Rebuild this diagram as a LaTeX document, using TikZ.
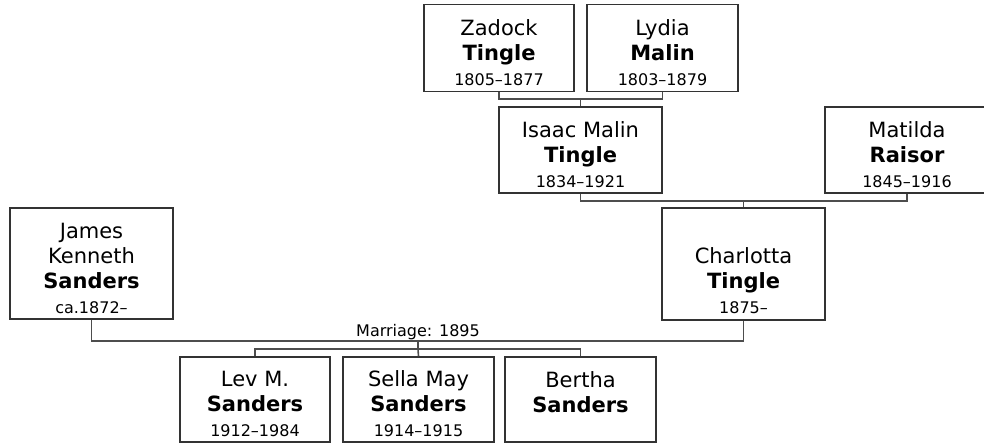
\documentclass[tikz,border=0pt]{standalone}
\usepackage{fontspec}
\setmainfont{DejaVu Sans}
\definecolor{boxline}{HTML}{333333}
\definecolor{linkline}{HTML}{4D4D4D}
\newcommand{\yrs}[1]{{\fontsize{16pt}{19pt}\selectfont #1}}
\newcommand{\headroom}{\rule{0pt}{25pt}}
\tikzset{
  person/.style={draw=boxline, line width=1.5pt, fill=white, align=center, inner sep=0pt,
    minimum width=163pt, minimum height=86pt, font=\fontsize{21pt}{25pt}\selectfont},
  link/.style={draw=linkline, line width=1.6pt}
}
\begin{document}
\begin{tikzpicture}[x=1pt, y=-1pt]
    \useasboundingbox (0,0) rectangle (984,443);

    % Grandparents
    \node[person, minimum width=150pt, minimum height=87pt] (zadock) at (499,48) {\headroom Zadock\\\textbf{Tingle}\\\yrs{1805--1877}};
    \node[person, minimum width=151pt, minimum height=87pt] (lydia) at (662.5,48) {\headroom Lydia\\\textbf{Malin}\\\yrs{1803--1879}};

    % Parents of Charlotta
    \node[person] (isaac) at (580.5,150) {\headroom Isaac Malin\\\textbf{Tingle}\\\yrs{1834--1921}};
    \node[person, minimum width=164pt] (matilda) at (907,150) {\headroom Matilda\\\textbf{Raisor}\\\yrs{1845--1916}};

    % Couple
    \node[person, minimum height=111pt] (james) at (91.5,263.5) {\headroom James\\Kenneth\\\textbf{Sanders}\\\yrs{ca.1872--}};
    \node[person, minimum height=112pt] (charlotta) at (743.5,264) {\headroom\\Charlotta\\\textbf{Tingle}\\\yrs{1875--}};

    % Children
    \node[person, minimum width=150pt, minimum height=85pt] (lev) at (255,399.5) {\headroom Lev M.\\\textbf{Sanders}\\\yrs{1912--1984}};
    \node[person, minimum width=151pt, minimum height=85pt] (sella) at (418.5,399.5) {\headroom Sella May\\\textbf{Sanders}\\\yrs{1914--1915}};
    \node[person, minimum width=151pt, minimum height=85pt] (bertha) at (580.5,399.5) {\headroom Bertha\\\textbf{Sanders}\\\yrs{\phantom{1}}};

    % Links
    \coordinate (zl) at (580.5,99);
    \draw[link] (zadock.south) |- (zl) -| (lydia.south);
    \draw[link] (zl) -- (isaac.north);

    \coordinate (im) at (743.5,201);
    \draw[link] (isaac.south) |- (im) -| (matilda.south);
    \draw[link] (im) -- (charlotta.north);

    \coordinate (jc) at (418,341);
    \draw[link] (james.south) |- (jc) -| (charlotta.south);
    \node[anchor=south, inner sep=1pt, font=\fontsize{16pt}{19pt}\selectfont] (marriage) at (jc) {Marriage: 1895};

    \coordinate (kids) at (418,349);
    \draw[link] (jc) -- (kids);
    \draw[link] (lev.north) |- (kids) -| (bertha.north);
    \draw[link] (kids) -- (sella.north);
\end{tikzpicture}
\end{document}
